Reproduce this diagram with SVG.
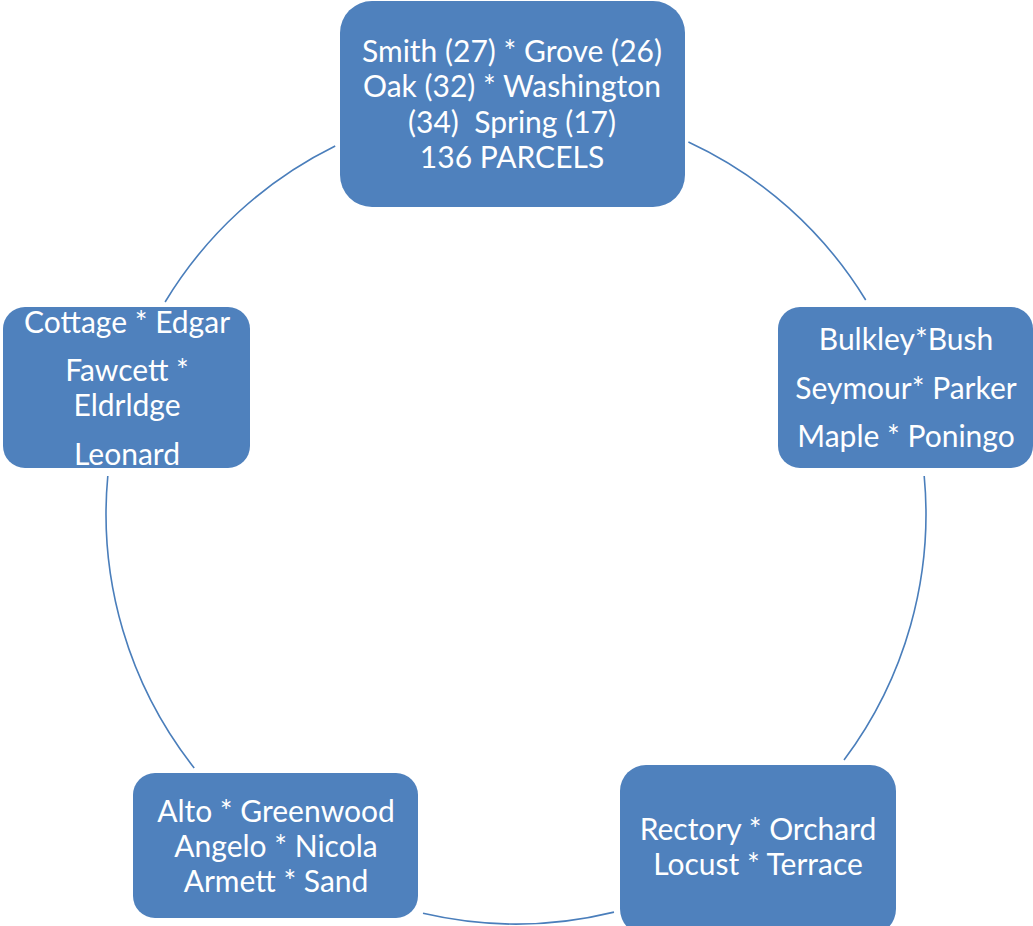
<svg xmlns="http://www.w3.org/2000/svg" width="1033" height="926" viewBox="0 0 1033 926">
<style>
.n{fill:#4F81BD;}
.t{fill:#FFFFFF;font-family:Lato,"Open Sans",sans-serif;font-size:30px;text-anchor:middle;dominant-baseline:central;}
.c{fill:none;stroke:#4A7EBB;stroke-width:1.6;}
</style>
<rect width="1033" height="926" fill="#FFFFFF"/>
<g id="connectors">
<path class="c" d="M688.4,142 A410,410 0 0 1 865.7,300"/>
<path class="c" d="M924.2,476 A410,410 0 0 1 844,760"/>
<path class="c" d="M614,912.1 A410,410 0 0 1 423,913.3"/>
<path class="c" d="M194.2,768 A410,410 0 0 1 107.8,476"/>
<path class="c" d="M165.1,302 A410,410 0 0 1 335.2,146"/>
</g>
<g id="node-top">
<rect class="n" x="340" y="1" width="345" height="206" rx="32"/>
<text class="t" x="512" y="50">Smith (27) * Grove (26)</text>
<text class="t" x="512" y="85">Oak (32) * Washington</text>
<text class="t" x="512" y="121" xml:space="preserve">(34)  Spring (17)</text>
<text class="t" x="512" y="156">136 PARCELS</text>
</g>
<g id="node-right">
<rect class="n" x="778" y="307" width="255" height="161" rx="22"/>
<text class="t" x="906" y="338">Bulkley*Bush</text>
<text class="t" x="906" y="387">Seymour* Parker</text>
<text class="t" x="906" y="435">Maple * Poningo</text>
</g>
<g id="node-bottom-right">
<rect class="n" x="620" y="765" width="276" height="170" rx="26"/>
<text class="t" x="758" y="828">Rectory * Orchard</text>
<text class="t" x="758" y="863">Locust * Terrace</text>
</g>
<g id="node-bottom-left">
<rect class="n" x="133" y="773" width="285" height="145" rx="22"/>
<text class="t" x="276" y="810">Alto * Greenwood</text>
<text class="t" x="276" y="845">Angelo * Nicola</text>
<text class="t" x="276" y="880">Armett * Sand</text>
</g>
<g id="node-left">
<rect class="n" x="3" y="307" width="247" height="161" rx="22"/>
<text class="t" x="127" y="321">Cottage * Edgar</text>
<text class="t" x="127" y="369">Fawcett *</text>
<text class="t" x="127" y="404">Eldrldge</text>
<text class="t" x="127" y="453">Leonard</text>
</g>
</svg>
